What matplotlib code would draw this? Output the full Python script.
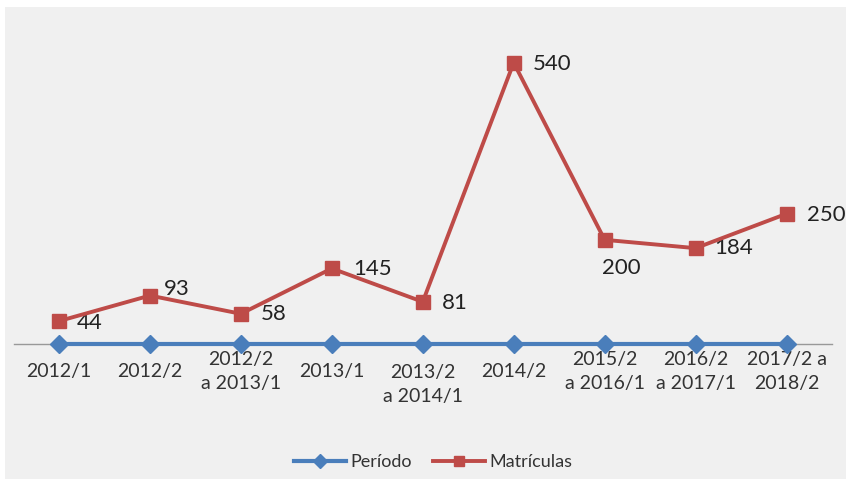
import matplotlib
matplotlib.use("Agg")
import matplotlib.pyplot as plt
from matplotlib.patches import Rectangle
from matplotlib.transforms import ScaledTranslation

categories = ["2012/1", "2012/2", "2012/2\na 2013/1", "2013/1", "2013/2\na 2014/1",
              "2014/2", "2015/2\na 2016/1", "2016/2\na 2017/1", "2017/2 a\n2018/2"]
periodo = [0, 0, 0, 0, 0, 0, 0, 0, 0]
matriculas = [44, 93, 58, 145, 81, 540, 200, 184, 250]
# label offsets (pixels) relative to each point
label_dx = [18, 14, 20, 21, 19, 19, -3, 19, 20]
label_dy = [-2, 7, 0, -1, -1, -1, -28, 0, -1]

W, H = 846, 479
fig = plt.figure(figsize=(W / 100, H / 100), dpi=100)
fig.patch.set_facecolor("white")
fig.patches.append(Rectangle((5 / W, 0), 1 - 5 / W, 1 - 7 / H, transform=fig.transFigure,
                             facecolor="#f0f0f0", edgecolor="none", zorder=-10))

plt.rcParams['font.family'] = ['Lato', 'DejaVu Sans']

left, right = 13.5 / W, 832 / W
bottom, top = (H - 344) / H, (H - 20) / H
ax = fig.add_axes([left, bottom, right - left, top - bottom])
ax.set_facecolor("none")
ax.set_zorder(2)

x = list(range(len(categories)))
ax.plot(x, periodo, color="#4a7ebb", lw=3, marker="D", ms=9, label="Período",
        clip_on=False, zorder=3)
ax.plot(x, matriculas, color="#be4b48", lw=2.8, marker="s", ms=10.5, label="Matrículas",
        clip_on=False, zorder=4)

for xi, v, dx, dy in zip(x, matriculas, label_dx, label_dy):
    ax.annotate(str(v), (xi, v), xytext=(dx, dy), textcoords="offset pixels",
                ha="left", va="center", fontsize=16, color="#222222")

ax.set_xlim(-0.5, len(categories) - 0.5)
ax.set_ylim(0, 622)
ax.set_yticks([])
for s in ["top", "left", "right"]:
    ax.spines[s].set_visible(False)
ax.spines["bottom"].set_color("#999999")
ax.spines["bottom"].set_linewidth(1)

ax.set_xticks(x)
ax.set_xticklabels(categories, fontsize=14, color="#333333", linespacing=1.5)
ax.tick_params(axis="x", length=0, pad=19.5)
for i, lab in enumerate(ax.get_xticklabels()):
    lab.set_va("center")
    lab.set_ha("center")
    lab.set_multialignment("center")
    if i == 4:
        lab.set_transform(lab.get_transform() + ScaledTranslation(0, -13 / 100, fig.dpi_scale_trans))

leg = fig.legend(loc="center", bbox_to_anchor=(433 / W, 1 - 462 / H), ncol=2, frameon=False,
                 fontsize=13, handlelength=2.9, handletextpad=0.2, columnspacing=1.2,
                 labelcolor="#333333", markerscale=0.75)

fig.savefig("out.png", dpi=100, facecolor=fig.get_facecolor())
